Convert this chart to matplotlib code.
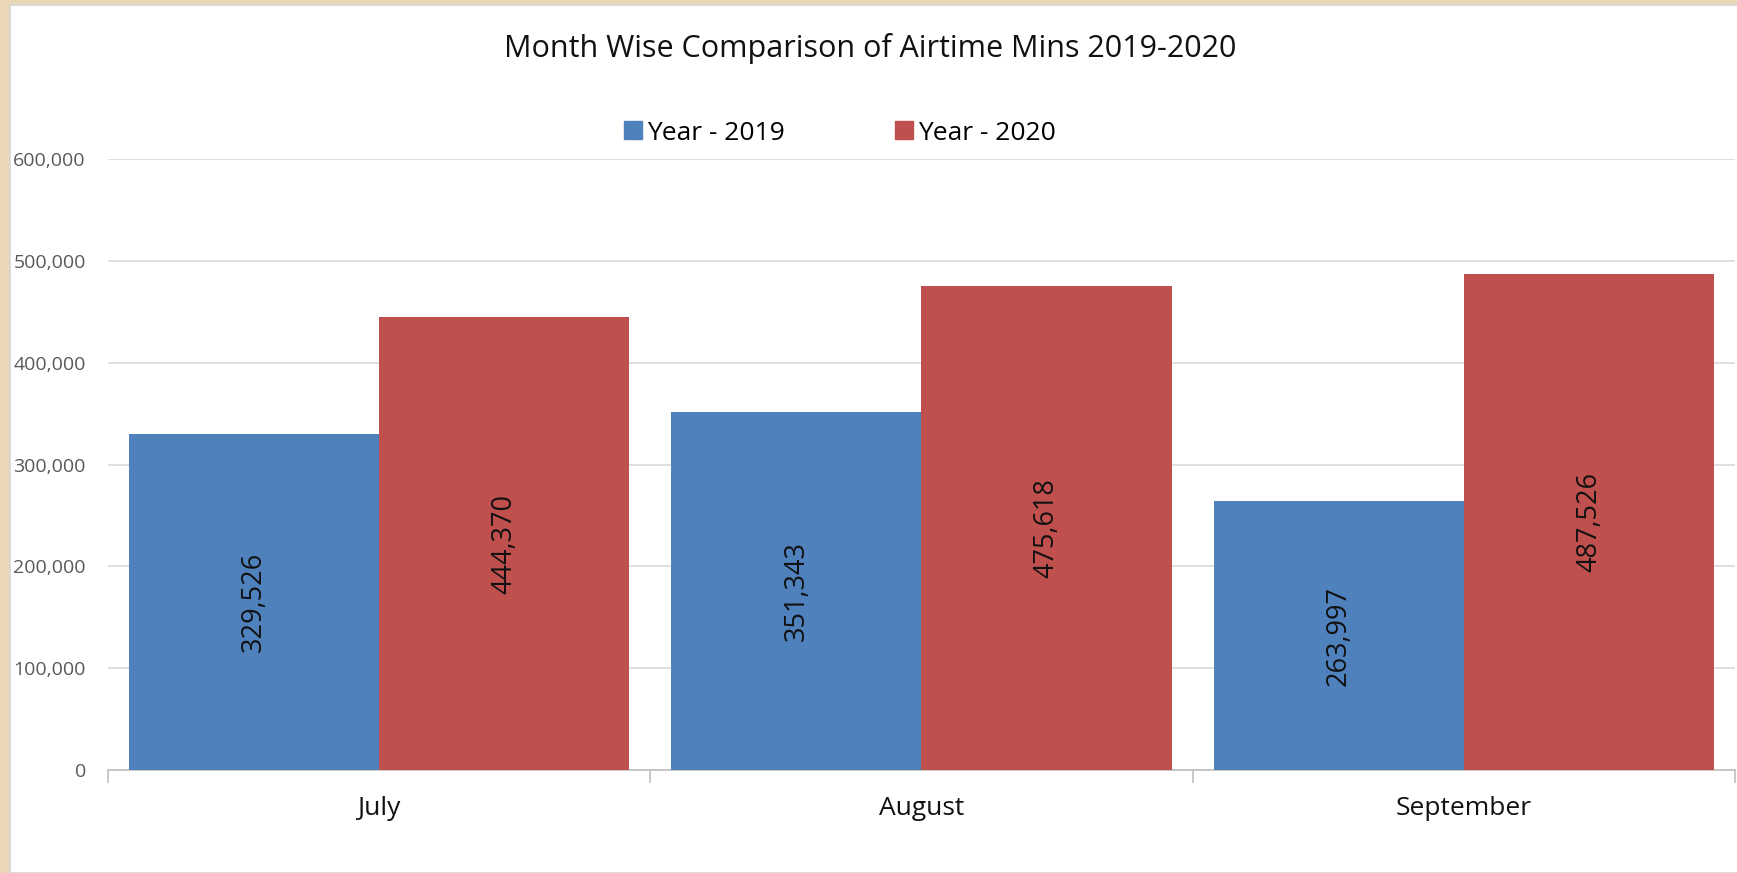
import matplotlib.pyplot as plt
import matplotlib.ticker as mtick
from matplotlib.patches import Rectangle, Patch
import numpy as np

months = ["July", "August", "September"]
year_2019 = [329526, 351343, 263997]
year_2020 = [444370, 475618, 487526]
series_labels = ["Year - 2019", "Year - 2020"]
y_ticks = [0, 100000, 200000, 300000, 400000, 500000, 600000]

BLUE = "#4F81BD"
RED = "#C0504D"
GRID = "#D9D9D9"
FONT = "Open Sans"

fig = plt.figure(figsize=(17.37, 8.73), dpi=100)
fig.patch.set_facecolor("#EAD7B5")
# white chart area on top of the beige slide background
fig.patches.append(Rectangle((10 / 1737, 0), 1, 1 - 5 / 873, transform=fig.transFigure,
                             facecolor="white", edgecolor="#D6D6D6", lw=1.2, zorder=-5))

ax = fig.add_axes([108 / 1737, 1 - 770 / 873, (1735 - 108) / 1737, (770 - 159) / 873])
ax.set_facecolor("white")
ax.set_zorder(2)

x = np.arange(len(months))
width = 250 / 542
b1 = ax.bar(x - width / 2, year_2019, width, color=BLUE, zorder=3)
b2 = ax.bar(x + width / 2, year_2020, width, color=RED, zorder=3)

for bars, vals in [(b1, year_2019), (b2, year_2020)]:
    for rect, v in zip(bars, vals):
        ax.text(rect.get_x() + rect.get_width() / 2, v / 2, f"{v:,}", rotation=90,
                ha="center", va="center", fontsize=19.5, color="#111111",
                family=FONT, zorder=4)

ax.set_xlim(-0.5, 2.5)
ax.set_ylim(0, 600000)
ax.set_yticks(y_ticks)
ax.yaxis.set_major_formatter(mtick.FuncFormatter(lambda v, p: f"{int(v):,}"))
ax.grid(axis="y", color=GRID, lw=1.2, zorder=0)

for side in ["top", "right", "left"]:
    ax.spines[side].set_visible(False)
ax.spines["bottom"].set_color("#BFBFBF")
ax.spines["bottom"].set_linewidth(1.2)

ax.tick_params(axis="y", length=0, pad=16, labelsize=14, labelcolor="#595959")
ax.set_xticks(x)
ax.set_xticklabels(months)
ax.tick_params(axis="x", length=0, pad=19, labelsize=19, labelcolor="#111111")
ax.set_xticks([-0.5, 0.5, 1.5, 2.5], minor=True)
ax.tick_params(axis="x", which="minor", length=9, color="#BFBFBF", width=1.2)
for lab in ax.get_xticklabels() + ax.get_yticklabels():
    lab.set_family(FONT)

fig.text(870 / 1737, 1 - 49 / 873, "Month Wise Comparison of Airtime Mins 2019-2020",
         ha="center", va="center", fontsize=22, color="#111111", family=FONT)

handles = [Patch(color=BLUE), Patch(color=RED)]
fig.legend(handles, series_labels, loc="center", bbox_to_anchor=(840 / 1737, 1 - 133 / 873),
           ncol=2, frameon=False, handlelength=0.65, handleheight=0.65, handletextpad=0.2,
           columnspacing=4.2, prop={"family": FONT, "size": 19})

fig.savefig("out.png", dpi=100)
